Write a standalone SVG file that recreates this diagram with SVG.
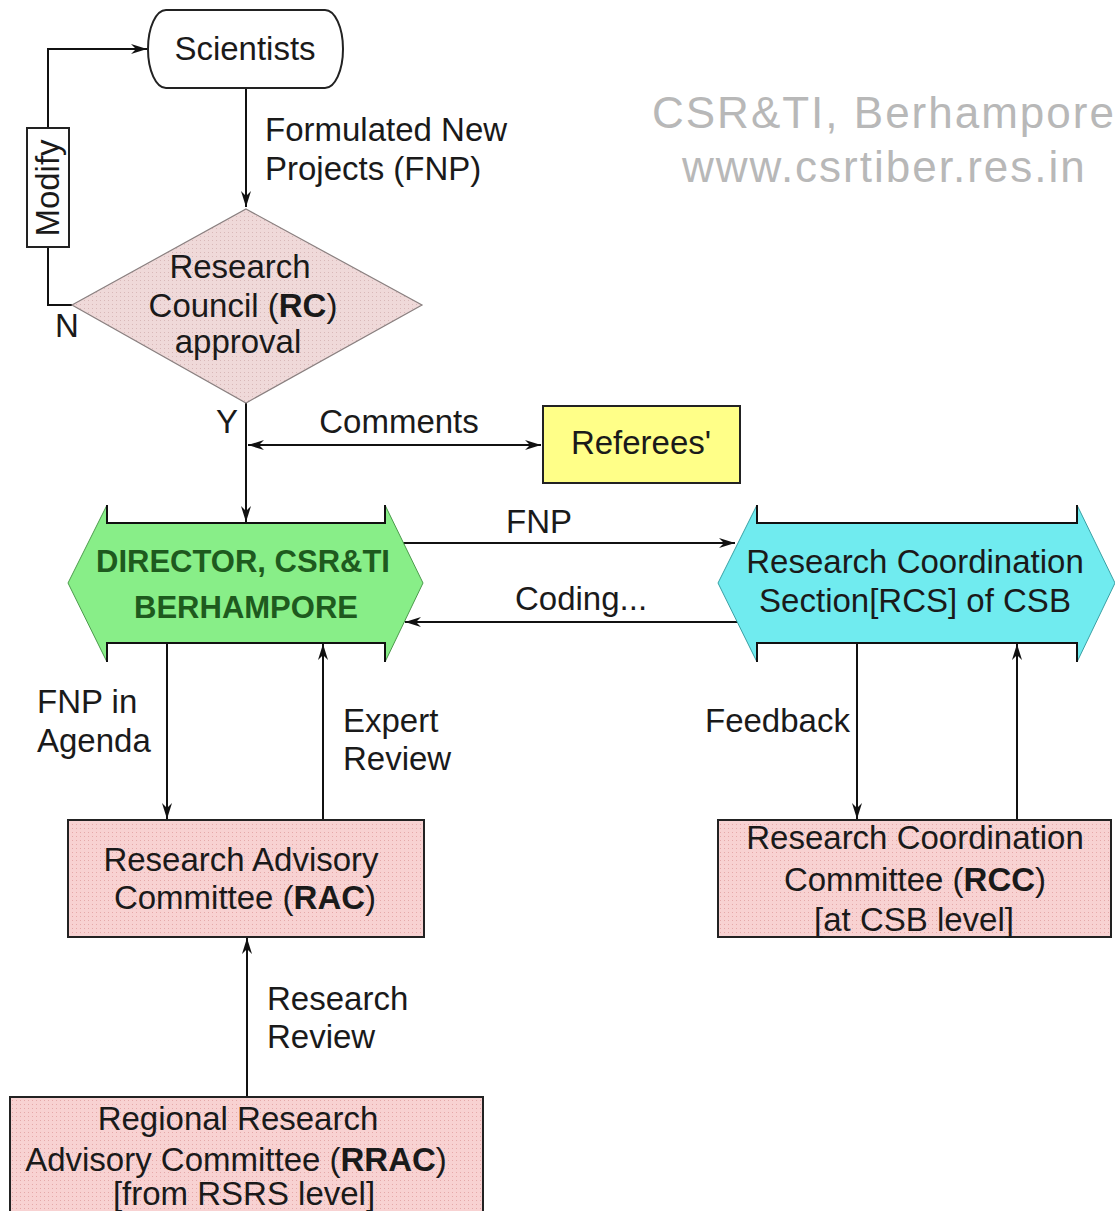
<svg xmlns="http://www.w3.org/2000/svg" width="1115" height="1211" viewBox="0 0 1115 1211">
<style>
text{font-family:"Liberation Sans",Arial,sans-serif;font-size:33px;fill:#1a1a1a}
.c{text-anchor:middle}
.b{font-weight:bold}
.wm{fill:#b8b8b8;font-size:44px;letter-spacing:2px}
.ln{stroke:#111;stroke-width:2;fill:none}
.box{stroke:#222;stroke-width:2;fill:url(#pinkdots)}
.dir{font-weight:bold;font-size:31px;fill:#1e5a1e}
</style>
<defs>
<pattern id="pinkdots" width="4" height="4" patternUnits="userSpaceOnUse">
<rect width="4" height="4" fill="#f8d2d2"/>
<rect x="0" y="0" width="1" height="1" fill="#e5a9a9"/>
</pattern>
<pattern id="diadots" width="4" height="4" patternUnits="userSpaceOnUse">
<rect width="4" height="4" fill="#efd9d9"/>
<rect x="0" y="0" width="1" height="1" fill="#d8b8b8"/>
</pattern>
<marker id="ah" viewBox="0 0 16 10" refX="16" refY="5" markerWidth="17" markerHeight="10" markerUnits="userSpaceOnUse" orient="auto-start-reverse">
<path d="M0,0 L16,5 L0,10 L5,5 z" fill="#111"/>
</marker>
</defs>

<text class="wm" x="652" y="128">CSR&amp;TI, Berhampore</text>
<text class="wm" x="682" y="182">www.csrtiber.res.in</text>

<g id="connectors">
<path class="ln" d="M246,88 V207" marker-end="url(#ah)"/>
<path class="ln" d="M72,305 H48 V247"/>
<path class="ln" d="M48,128 V49 H147" marker-end="url(#ah)"/>
<path class="ln" d="M246,403 V522" marker-end="url(#ah)"/>
<path class="ln" d="M248,445 H541" marker-start="url(#ah)" marker-end="url(#ah)"/>
<path class="ln" d="M403,543 H735" marker-end="url(#ah)"/>
<path class="ln" d="M737,622 H405" marker-end="url(#ah)"/>
<path class="ln" d="M167,643 V819" marker-end="url(#ah)"/>
<path class="ln" d="M323,820 V644" marker-end="url(#ah)"/>
<path class="ln" d="M857,643 V819" marker-end="url(#ah)"/>
<path class="ln" d="M1017,820 V644" marker-end="url(#ah)"/>
<path class="ln" d="M247,1097 V938" marker-end="url(#ah)"/>
<text x="265" y="141">Formulated New</text>
<text x="265" y="180">Projects (FNP)</text>
<text x="55" y="337">N</text>
<text x="216" y="433">Y</text>
<text class="c" x="399" y="433">Comments</text>
<text class="c" x="539" y="533">FNP</text>
<text x="515" y="610">Coding...</text>
<text x="37" y="713">FNP in</text>
<text x="37" y="752">Agenda</text>
<text x="343" y="732">Expert</text>
<text x="343" y="770">Review</text>
<text x="705" y="732">Feedback</text>
<text x="267" y="1010">Research</text>
<text x="267" y="1048">Review</text>
</g>

<g id="scientists">
<rect x="148" y="10" width="195" height="78" rx="18" ry="39" fill="#fff" stroke="#222" stroke-width="2"/>
<text class="c" x="245" y="60">Scientists</text>
</g>

<g id="modify">
<rect x="27" y="128" width="42" height="119" fill="#fff" stroke="#222" stroke-width="2"/>
<text class="c" transform="translate(59,188) rotate(-90)" x="0" y="0">Modify</text>
</g>

<g id="rc">
<polygon points="246,209 422,305 246,403 72,305" fill="url(#diadots)" stroke="#8a8080" stroke-width="1.2"/>
<text class="c" x="240" y="278">Research</text>
<text class="c" x="243" y="317">Council (<tspan class="b">RC</tspan>)</text>
<text class="c" x="238" y="353">approval</text>
</g>

<g id="referees">
<rect x="543" y="406" width="197" height="77" fill="#ffff88" stroke="#222" stroke-width="2"/>
<text class="c" x="641" y="454">Referees'</text>
</g>

<g id="director">
<polygon points="107,505 107,523 385,523 385,505 423,583 385,662 385,643 107,643 107,662 68,583" fill="#88ee88" stroke="#4c9a4c" stroke-width="1"/>
<path class="ln" d="M107,505 V523 H385 V505 M107,662 V643 H385 V662"/>
<text class="c dir" x="243" y="572">DIRECTOR, CSR&amp;TI</text>
<text class="c dir" x="246" y="618">BERHAMPORE</text>
</g>

<g id="rcs">
<polygon points="757,505 757,523 1077,523 1077,505 1115,583 1077,662 1077,643 757,643 757,662 718,583" fill="#70ebef" stroke="#3aa0a4" stroke-width="1"/>
<path class="ln" d="M757,505 V523 H1077 V505 M757,662 V643 H1077 V662"/>
<text class="c" x="915" y="573">Research Coordination</text>
<text class="c" x="915" y="612">Section[RCS] of CSB</text>
</g>

<g id="rac">
<rect class="box" x="68" y="820" width="356" height="117"/>
<text class="c" x="241" y="871">Research Advisory</text>
<text class="c" x="245" y="909">Committee (<tspan class="b">RAC</tspan>)</text>
</g>

<g id="rcc">
<rect class="box" x="718" y="820" width="393" height="117"/>
<text class="c" x="915" y="849">Research Coordination</text>
<text class="c" x="915" y="891">Committee (<tspan class="b">RCC</tspan>)</text>
<text class="c" x="914" y="931">[at CSB level]</text>
</g>

<g id="rrac">
<rect class="box" x="10" y="1097" width="473" height="120"/>
<text class="c" x="238" y="1130">Regional Research</text>
<text class="c" x="236" y="1171">Advisory Committee (<tspan class="b">RRAC</tspan>)</text>
<text class="c" x="244" y="1205">[from RSRS level]</text>
</g>
</svg>
